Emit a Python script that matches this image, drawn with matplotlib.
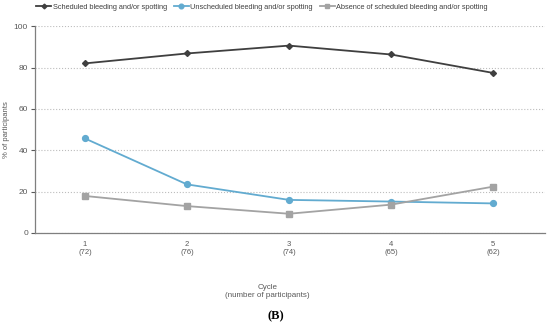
import matplotlib
matplotlib.use('Agg')
import matplotlib.pyplot as plt

plt.rcParams['font.family'] = ['Liberation Sans', 'DejaVu Sans']

cycles = [1, 2, 3, 4, 5]
tickLabels = ['1\n(72)', '2\n(76)', '3\n(74)', '4\n(65)', '5\n(62)']
scheduled = [82, 86.8, 90.6, 86.3, 77.4]
unscheduled = [45.7, 23.5, 16.0, 15.2, 14.3]
absence = [17.9, 13.0, 9.3, 13.7, 22.4]

fig = plt.figure(figsize=(5.5, 3.27), dpi=100)
ax1 = fig.add_axes([0.0636, 0.2875, 0.9274, 0.6325])

ax1.plot(cycles, scheduled, color='#3f3f3f', lw=1.3, marker='D', ms=3,
         label='Scheduled bleeding and/or spotting')
ax1.plot(cycles, unscheduled, color='#62abd0', lw=1.3, marker='o', ms=4.2,
         label='Unscheduled bleeding and/or spotting')
ax1.plot(cycles, absence, color='#a3a3a3', lw=1.3, marker='s', ms=4.2,
         label='Absence of scheduled bleeding and/or spotting')

ax1.set_xlim(0.51, 5.51)
ax1.set_ylim(0, 100)
ax1.set_yticks([0, 20, 40, 60, 80, 100])
ax1.set_xticks(cycles)
ax1.set_xticklabels(tickLabels, linespacing=1.2)
ax1.yaxis.grid(True, color='#bdbdbd', ls=':', lw=0.8)
ax1.set_axisbelow(True)

for s in ['top', 'right']:
    ax1.spines[s].set_visible(False)
for s in ['left', 'bottom']:
    ax1.spines[s].set_color('#7f7f7f')
    ax1.spines[s].set_linewidth(0.9)

ax1.tick_params(axis='y', labelsize=6, colors='#595959', length=3, width=0.8, pad=2)
ax1.tick_params(axis='x', labelsize=5.5, colors='#595959', length=0, pad=6)

ax1.set_ylabel('% of participants', fontsize=5.5, color='#595959', labelpad=3)

fig.text(0.486, 0.108, 'Cycle\n(number of participants)', ha='center', va='center',
         fontsize=5.8, color='#595959', linespacing=1.15)
fig.text(0.502, 0.033, '(B)', ha='center', va='center', fontsize=9,
         fontweight='bold', family=['Liberation Serif', 'DejaVu Serif'])

ax1.legend(loc='upper left', bbox_to_anchor=(0.062, 0.995), bbox_transform=fig.transFigure,
           ncol=3, fontsize=5.3, frameon=False, handlelength=2.0, handletextpad=0.2,
           columnspacing=1.0, borderaxespad=0.0, borderpad=0.3, markerscale=0.8,
           labelcolor='#404040')

fig.savefig('out.png', dpi=100)
